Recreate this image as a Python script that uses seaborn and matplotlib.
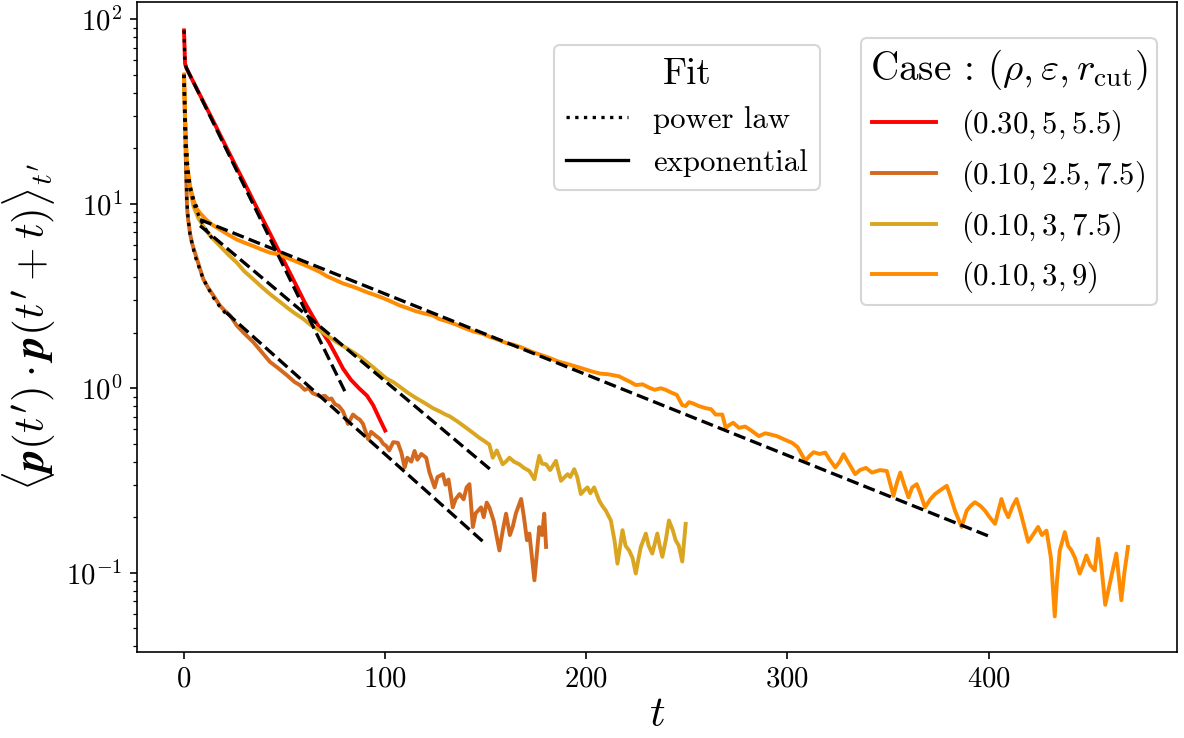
import numpy as np
import pandas as pd
import matplotlib
matplotlib.use("Agg")
import matplotlib.pyplot as plt
from matplotlib.lines import Line2D
import seaborn as sns

# correlation curves, values
t_red = [0, 0.5, 1, 2, 5, 10, 15, 20, 25, 30, 35, 40, 45, 50, 55, 60, 64, 68, 72, 76,
         79, 83, 87, 91, 94, 97, 100]
y_red = [87, 57.5, 55, 52.1, 44.9, 35.1, 27.4, 21.3, 16.6, 13.0, 10.1, 7.9, 6.17, 4.81,
         3.75, 2.92, 2.45, 2.07, 1.78, 1.48, 1.28, 1.11, 1.0, 0.91, 0.81, 0.69, 0.59]

t_choc = [0, 0.5, 1, 1.5, 2, 3, 4, 5.5, 7.5, 9.6, 12, 14.6, 17.9, 20, 22.9, 26.2, 30, 34.4,
          38, 42.7, 47, 51, 55, 57.6, 60, 62, 64, 66, 68, 70, 72, 73.3, 75, 77, 79, 81.5,
          84, 86, 87.4, 89, 91.5, 93, 95.6, 97.5, 99, 100.6, 102, 104, 106.3, 108, 109.7,
          111, 113, 114.6, 116, 118, 120.4, 122, 124.6, 126, 128.7, 130, 131.5, 133.6, 135,
          137, 139, 140.5, 141.9, 143.6, 145, 147.7, 149, 150.5, 151.8, 154, 156.8, 158.5,
          160.1, 162, 163.4, 165, 167.6, 169, 170.5, 171.7, 174.2, 175.5, 176.6, 178, 179.1,
          180]
y_choc = [50, 28, 15.5, 9.5, 8.3, 6.9, 6.1, 5.4, 4.6, 3.9, 3.5, 3.18, 2.8, 2.65, 2.48, 2.19,
          1.98, 1.78, 1.6, 1.39, 1.28, 1.18, 1.08, 1.04, 0.98, 1.0, 0.94, 0.92, 0.90, 0.91,
          0.87, 0.88, 0.82, 0.80, 0.75, 0.64, 0.72, 0.69, 0.676, 0.64, 0.53, 0.58, 0.55,
          0.53, 0.50, 0.486, 0.46, 0.51, 0.506, 0.45, 0.372, 0.42, 0.40, 0.457, 0.41, 0.44,
          0.42, 0.35, 0.29, 0.33, 0.342, 0.30, 0.32, 0.226, 0.25, 0.267, 0.25, 0.29, 0.302,
          0.177, 0.21, 0.226, 0.20, 0.24, 0.226, 0.19, 0.132, 0.17, 0.209, 0.16, 0.177, 0.21,
          0.251, 0.20, 0.15, 0.163, 0.091, 0.13, 0.177, 0.16, 0.209, 0.138]

t_gold = [0, 0.5, 1, 1.5, 2.2, 3, 4.7, 7, 9.6, 13, 17.9, 22, 26.2, 30, 34.4, 38.5, 42.7, 47,
          51, 55, 59.2, 63, 67.5, 71.5, 75.8, 80, 84, 87.5, 90.7, 94, 97, 100.6, 104, 107.2,
          111, 115.5, 119, 123.7, 127, 130, 132, 136, 140.3, 143, 146.9, 149, 151.8, 153.5,
          155.5, 158.4, 160, 161.8, 164, 166.7, 169, 171.7, 174.2, 176.6, 178, 180, 182,
          184.9, 187.4, 190.7, 192, 194, 195.5, 197.3, 199, 200.6, 202, 203.9, 206.4, 208,
          209.7, 212.2, 214, 215.5, 218, 219.5, 221.3, 223, 224.6, 226, 227.1, 229.6, 231,
          232.8, 235.3, 236.5, 237.8, 239.5, 241.1, 243, 244.4, 246, 247.7, 249.4]
y_gold = [50, 30, 21, 16, 14, 12, 9.7, 8.4, 7.55, 6.7, 5.9, 5.3, 4.8, 4.3, 3.9, 3.55, 3.24,
          2.98, 2.75, 2.55, 2.38, 2.2, 2.06, 1.92, 1.78, 1.67, 1.57, 1.48, 1.39, 1.30, 1.22,
          1.13, 1.08, 1.02, 0.95, 0.883, 0.84, 0.78, 0.75, 0.72, 0.705, 0.66, 0.61, 0.58,
          0.538, 0.52, 0.495, 0.42, 0.46, 0.387, 0.40, 0.42, 0.40, 0.387, 0.37, 0.356, 0.321,
          0.43, 0.39, 0.387, 0.36, 0.404, 0.315, 0.342, 0.33, 0.364, 0.33, 0.267, 0.28, 0.29,
          0.27, 0.29, 0.246, 0.23, 0.217, 0.192, 0.15, 0.112, 0.17, 0.14, 0.132, 0.12, 0.099,
          0.12, 0.138, 0.163, 0.14, 0.127, 0.163, 0.14, 0.122, 0.15, 0.192, 0.17, 0.15, 0.14,
          0.115, 0.184]

t_orange = [0, 0.5, 1, 1.5, 2.2, 3, 4.7, 6, 8, 11, 14, 17.9, 22, 26.2, 30, 34.4, 38.5, 42.7,
            47.7, 51, 55, 59, 63, 67.5, 71, 75, 79, 84, 87, 91, 95, 99, 103, 107.2, 111, 115,
            119, 123.7, 127, 131, 135, 140.3, 144, 148, 152, 156.8, 160, 164, 168, 173.3, 177,
            181, 186.5, 190, 194, 198, 203.1, 207, 211, 216.3, 219, 222, 224.6, 228, 231, 234,
            237, 239.5, 242, 245, 247.7, 249.4, 251, 252.7, 256, 259.3, 262, 264.3, 267.6,
            269.3, 271, 273, 275.9, 279, 282, 285.8, 289, 292, 294.8, 298, 302.3, 305, 308.9,
            311, 313, 316, 318.8, 321, 323.8, 326, 327.9, 330, 333.7, 336, 339, 342, 346,
            349.4, 352.7, 354.5, 356.1, 358, 360.2, 362, 364.3, 366, 368.4, 371, 373.4, 376,
            379.2, 381, 383.3, 386.6, 389.1, 391, 393.2, 396, 398.2, 400.5, 403.2, 406.4, 408,
            409.8, 412, 413.9, 416, 419.7, 422, 424.6, 426.5, 428.8, 431, 432.9, 434, 435.4,
            437.9, 439.5, 441.2, 443, 445.3, 447, 448.6, 450.5, 452.8, 454.4, 456, 458, 459.5,
            461, 463.5, 465, 466, 467.5, 469.3]
y_orange = [50, 30, 21, 16, 14.5, 12.5, 10.5, 9.5, 8.9, 8.2, 7.7, 7.25, 6.8, 6.4, 6.15, 5.9,
            5.65, 5.43, 5.3, 5.1, 4.9, 4.7, 4.5, 4.27, 4.05, 3.87, 3.7, 3.55, 3.45, 3.31, 3.2,
            3.08, 2.95, 2.81, 2.72, 2.62, 2.55, 2.48, 2.37, 2.3, 2.22, 2.1, 2.03, 1.98, 1.9,
            1.82, 1.76, 1.72, 1.66, 1.57, 1.52, 1.47, 1.39, 1.36, 1.32, 1.28, 1.23, 1.2, 1.19,
            1.16, 1.12, 1.08, 1.04, 1.05, 1.01, 0.98, 1.0, 0.98, 0.95, 0.92, 0.81, 0.8, 0.84,
            0.83, 0.80, 0.78, 0.77, 0.72, 0.72, 0.61, 0.63, 0.65, 0.61, 0.62, 0.59, 0.55, 0.57,
            0.56, 0.55, 0.53, 0.506, 0.48, 0.404, 0.43, 0.45, 0.44, 0.448, 0.41, 0.372, 0.40,
            0.439, 0.40, 0.342, 0.36, 0.37, 0.349, 0.36, 0.356, 0.261, 0.31, 0.349, 0.30,
            0.256, 0.29, 0.302, 0.27, 0.226, 0.25, 0.267, 0.28, 0.296, 0.26, 0.217, 0.177,
            0.217, 0.23, 0.241, 0.23, 0.217, 0.20, 0.184, 0.251, 0.22, 0.20, 0.23, 0.251, 0.21,
            0.147, 0.16, 0.177, 0.16, 0.169, 0.12, 0.058, 0.09, 0.132, 0.166, 0.14, 0.132, 0.12,
            0.099, 0.11, 0.124, 0.11, 0.103, 0.153, 0.11, 0.067, 0.08, 0.095, 0.127, 0.09,
            0.071, 0.10, 0.138]

# exponential fits (straight on log axis: end points only)
exp_red_t = [1, 80]
exp_red_y = [55, 0.96]
exp_choc_t = [21, 149.4]
exp_choc_y = [2.57, 0.145]
exp_gold_t = [8, 154]
exp_gold_y = [7.6, 0.35]
exp_orange_t = [8, 400]
exp_orange_y = [8.2, 0.158]

# power law fits (short early part)
pl_red_t = [0, 0.25, 0.5, 1]
pl_red_y = [87, 70, 58, 55]
pl_choc_t = [0, 0.3, 0.6, 1, 1.4, 2, 3, 5.5, 9.6, 14.6, 18, 22]
pl_choc_y = [50, 30, 20, 15.2, 10.5, 8.4, 6.8, 5.2, 3.9, 3.1, 2.75, 2.45]
pl_gold_t = [0, 0.5, 1, 2, 3, 5, 8, 11, 14]
pl_gold_y = [50, 30, 21, 15, 12, 9.9, 8.3, 7.2, 6.5]
pl_orange_t = [0, 0.5, 1, 2, 3, 5, 7]
pl_orange_y = [50, 30, 21, 15, 12.5, 10.3, 9.3]

cases = [r"$(0.30, 5, 5.5)$", r"$(0.10, 2.5, 7.5)$", r"$(0.10, 3, 7.5)$", r"$(0.10, 3, 9)$"]
colors = ["red", "chocolate", "goldenrod", "darkorange"]

plt.rcParams["font.family"] = "serif"
plt.rcParams["font.serif"] = ["cmr10"]
plt.rcParams["mathtext.fontset"] = "cm"
plt.rcParams["axes.formatter.use_mathtext"] = True

curves = [(t_red, y_red), (t_choc, y_choc), (t_gold, y_gold), (t_orange, y_orange)]
df = pd.concat([pd.DataFrame({"t": t, "y": y, "case": c})
                for (t, y), c in zip(curves, cases)], ignore_index=True)

fig = plt.figure(figsize=(8, 738 / 148), dpi=148)
fig.subplots_adjust(left=0.1155, right=0.9938, top=0.9977, bottom=0.1169)
ax = fig.add_subplot(111)

sns.lineplot(data=df, x="t", y="y", hue="case", hue_order=cases,
             palette=dict(zip(cases, colors)), estimator=None, sort=False,
             linewidth=1.9, legend=False, ax=ax)

for t, y in [(pl_red_t, pl_red_y), (pl_choc_t, pl_choc_y),
             (pl_gold_t, pl_gold_y), (pl_orange_t, pl_orange_y)]:
    ax.plot(t, y, ls=":", color="k", lw=1.6)
for t, y in [(exp_red_t, exp_red_y), (exp_choc_t, exp_choc_y),
             (exp_gold_t, exp_gold_y), (exp_orange_t, exp_orange_y)]:
    ax.plot(t, y, ls="--", color="k", lw=1.6)

ax.set_yscale("log")
ax.set_xlim(-23.5, 493.5)
ax.set_ylim(0.0373, 124.5)
ax.set_xticks([0, 100, 200, 300, 400])
ax.tick_params(labelsize=14)
ax.set_xlabel(r"$t$", fontsize=21, labelpad=2)
ax.set_ylabel(r"$\langle \mathbfit{p}(t') \cdot \mathbfit{p}(t'+t) \rangle_{t'}$", fontsize=21)

fit_handles = [Line2D([], [], color="k", ls=":", lw=1.6),
               Line2D([], [], color="k", ls="-", lw=1.6)]
leg1 = ax.legend(fit_handles, ["power law", "exponential"], title="Fit",
                 fontsize=15, title_fontsize=18, loc="upper left",
                 bbox_to_anchor=(0.4013, 0.9334), borderaxespad=0)
ax.add_artist(leg1)
case_handles = [Line2D([], [], color=c, lw=1.9) for c in colors]
ax.legend(case_handles, cases, title=r"Case : $(\rho, \varepsilon, r_{\mathrm{cut}})$",
          fontsize=15, title_fontsize=19, loc="upper right", labelspacing=0.5,
          handlelength=2.1, borderpad=0.3,
          bbox_to_anchor=(0.9807, 0.9437), borderaxespad=0)

plt.savefig("out.png", dpi=148)
